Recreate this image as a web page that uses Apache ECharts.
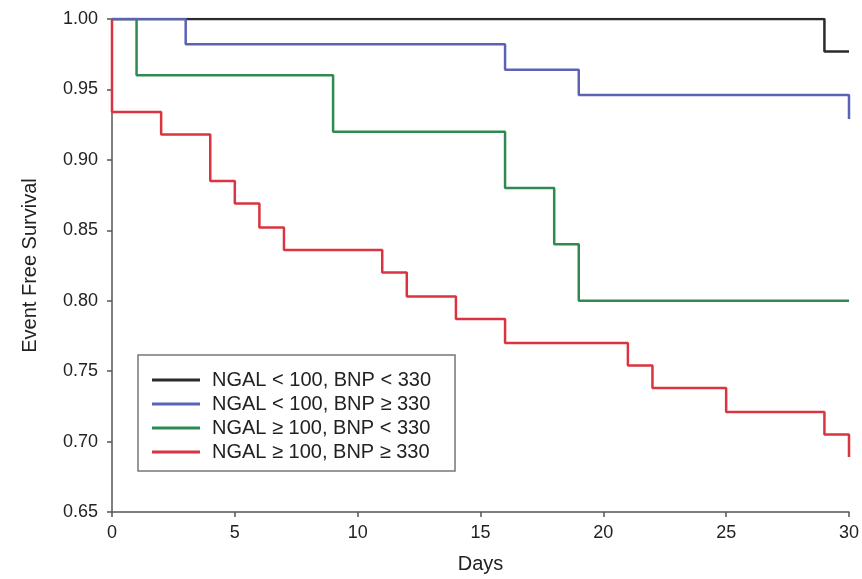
<!DOCTYPE html>
<html>
<head>
    <meta charset="utf-8" />
    <title>Event Free Survival</title>
    <script src="https://cdn.jsdelivr.net/npm/echarts@6/dist/echarts.min.js"></script>
    <style>
        html, body { margin: 0; padding: 0; background: #fff; }
        #chart { width: 862px; height: 579px; }
    </style>
</head>
<body>
    <div id="chart"></div>
    <script type="text/javascript">
        // 各组的事件时间与生存率 (Kaplan-Meier)
        var blackTimes = [0, 29, 30];
        var blackSurv = [1.0, 0.977, 0.977];
        var blueTimes = [0, 3, 16, 19, 30];
        var blueSurv = [1.0, 0.982, 0.964, 0.946, 0.929];
        var greenTimes = [0, 1, 9, 16, 18, 19, 30];
        var greenSurv = [1.0, 0.96, 0.92, 0.88, 0.84, 0.80, 0.80];
        var redTimes = [0, 0, 2, 4, 5, 6, 7, 11, 12, 14, 16, 21, 22, 25, 29, 30];
        var redSurv = [1.0, 0.934, 0.918, 0.885, 0.869, 0.852, 0.836, 0.820, 0.803, 0.787, 0.770, 0.754, 0.738, 0.721, 0.705, 0.689];

        var groupNames = ['NGAL < 100, BNP < 330', 'NGAL < 100, BNP \u2265 330', 'NGAL \u2265 100, BNP < 330', 'NGAL \u2265 100, BNP \u2265 330'];
        var xTicks = [0, 5, 10, 15, 20, 25, 30];
        var yTicks = [0.65, 0.70, 0.75, 0.80, 0.85, 0.90, 0.95, 1.00];

        function pairs(t, s) {
            var out = [];
            for (var i = 0; i < t.length; i++) {
                out.push([t[i], s[i]]);
            }
            return out;
        }

        function stepSeries(name, t, s, color) {
            return {
                name: name,
                type: 'line',
                step: 'end',
                showSymbol: false,
                symbol: 'none',
                lineStyle: { color: color, width: 2.5 },
                itemStyle: { color: color },
                data: pairs(t, s)
            };
        }

        var font = 'Liberation Sans, Arial, sans-serif';
        var myChart = echarts.init(document.getElementById('chart'));

        myChart.setOption({
            animation: false,
            grid: {
                left: 112,
                right: 11,
                top: 19,
                bottom: 66
            },
            legend: {
                data: groupNames,
                orient: 'vertical',
                left: 138,
                top: 355,
                padding: [15, 24, 9, 14],
                itemGap: 4,
                itemWidth: 48,
                itemHeight: 3,
                icon: 'rect',
                borderColor: '#777',
                borderWidth: 1.5,
                textStyle: {
                    fontFamily: font,
                    fontSize: 20,
                    color: '#222',
                    padding: [0, 0, 0, 7]
                }
            },
            xAxis: {
                type: 'value',
                min: xTicks[0],
                max: xTicks[xTicks.length - 1],
                interval: 5,
                name: 'Days',
                nameLocation: 'middle',
                nameGap: 42,
                nameTextStyle: { fontFamily: font, fontSize: 20, color: '#222' },
                splitLine: { show: false },
                axisLine: { lineStyle: { color: '#555', width: 1.5 } },
                axisTick: { length: 5, lineStyle: { color: '#555', width: 1.5 } },
                axisLabel: { fontFamily: font, fontSize: 18, color: '#222', margin: 12 }
            },
            yAxis: {
                type: 'value',
                min: yTicks[0],
                max: yTicks[yTicks.length - 1],
                interval: 0.05,
                name: 'Event Free Survival',
                nameLocation: 'middle',
                nameGap: 72,
                nameTextStyle: { fontFamily: font, fontSize: 20, color: '#222' },
                splitLine: { show: false },
                axisLine: { show: true, lineStyle: { color: '#555', width: 1.5 } },
                axisTick: { show: true, length: 5, lineStyle: { color: '#555', width: 1.5 } },
                axisLabel: {
                    fontFamily: font,
                    fontSize: 18,
                    color: '#222',
                    margin: 14,
                    formatter: function (v) { return v.toFixed(2); }
                }
            },
            series: [
                stepSeries(groupNames[0], blackTimes, blackSurv, '#2b2b2b'),
                stepSeries(groupNames[2], greenTimes, greenSurv, '#2f8a50'),
                stepSeries(groupNames[1], blueTimes, blueSurv, '#5c63b5'),
                stepSeries(groupNames[3], redTimes, redSurv, '#d9343f')
            ]
        });
    </script>
</body>
</html>
